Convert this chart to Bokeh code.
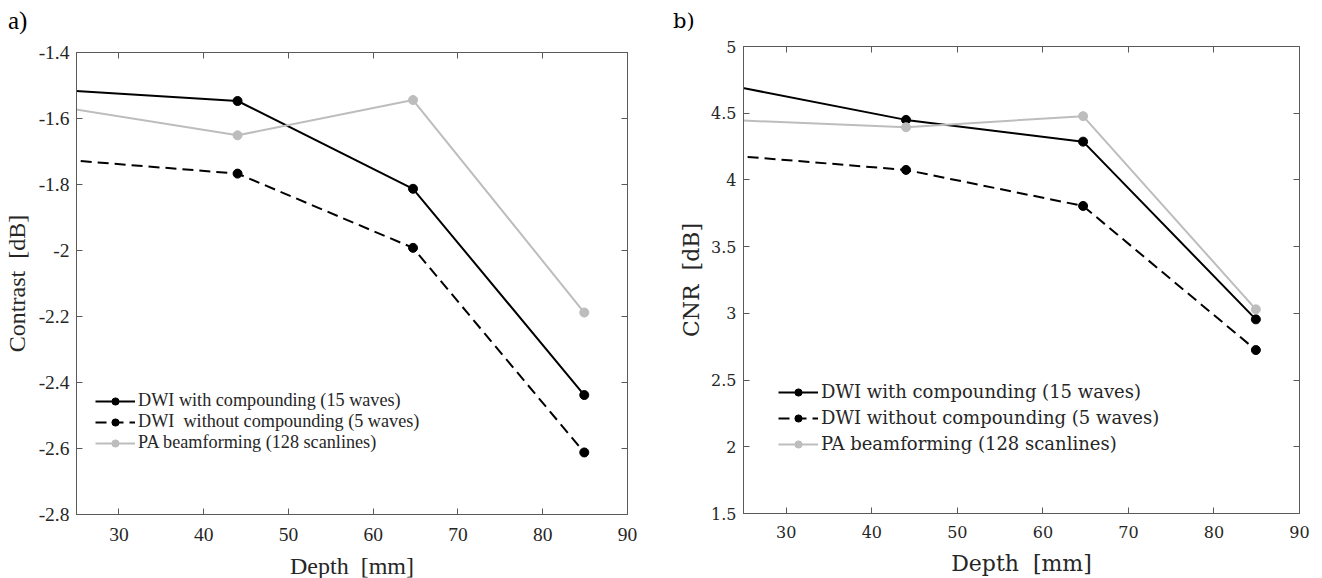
from bokeh.plotting import figure
from bokeh.models import Range1d, LinearAxis, FixedTicker, Legend, LegendItem, Div
from bokeh.layouts import row, column
from bokeh.embed import file_html
from bokeh.resources import INLINE

# ---------------- data ----------------
depth = [23.5, 44.0, 64.7, 84.9]

contrast_comp = [-1.514, -1.547, -1.813, -2.438]
contrast_nocomp = [-1.725, -1.767, -1.992, -2.612]
contrast_pa = [-1.567, -1.651, -1.544, -2.188]

cnr_comp = [4.707, 4.450, 4.287, 2.955]
cnr_nocomp = [4.183, 4.075, 3.805, 2.725]
cnr_pa = [4.449, 4.395, 4.478, 3.030]

series_names = [
    "DWI with compounding (15 waves)",
    "DWI\u00a0 without compounding (5 waves)",
    "PA beamforming (128 scanlines)",
]
series_names_b = [
    "DWI with compounding (15 waves)",
    "DWI without compounding (5 waves)",
    "PA beamforming (128 scanlines)",
]

x_ticks = [30, 40, 50, 60, 70, 80, 90]
x_tick_labels = ["30", "40", "50", "60", "70", "80", "90"]
contrast_ticks = [-2.8, -2.6, -2.4, -2.2, -2.0, -1.8, -1.6, -1.4]
contrast_tick_labels = ["-2.8", "-2.6", "-2.4", "-2.2", "-2", "-1.8", "-1.6", "-1.4"]
cnr_ticks = [1.5, 2.0, 2.5, 3.0, 3.5, 4.0, 4.5, 5.0]
cnr_tick_labels = ["1.5", "2", "2.5", "3", "3.5", "4", "4.5", "5"]

AX = "#5a5a5a"
TXT = "#262626"
GRAY = "#bdbdbd"
TAG_H = 34


def style_axis(ax, ticks, labels, font, size, hidden=False):
    ax.ticker = FixedTicker(ticks=ticks)
    ax.major_tick_in = 6
    ax.major_tick_out = 0
    ax.minor_tick_line_color = None
    ax.axis_line_color = AX
    ax.major_tick_line_color = AX
    ax.major_label_text_font = font
    ax.major_label_text_font_size = size
    if hidden:
        ax.major_label_text_color = None
        ax.major_label_standoff = 0
    else:
        ax.major_label_overrides = {t: l for t, l in zip(ticks, labels)}
        ax.major_label_text_color = TXT


def make_panel(ys, names, yticks, ylabels, ylab, ystart, yend, font,
               tick_size, lab_size, leg_size, leg_loc, leg_rowpad,
               border_left, border_right, border_top, fw, fh,
               ylab_standoff, xtick_standoff, xlab_standoff):
    total_h = 578 - TAG_H
    p = figure(output_backend="svg", toolbar_location=None,
               frame_width=fw, frame_height=fh,
               min_border_left=border_left, min_border_right=border_right,
               min_border_top=border_top,
               min_border_bottom=total_h - border_top - fh,
               x_range=Range1d(25, 90), y_range=Range1d(ystart, yend))
    p.xgrid.visible = False
    p.ygrid.visible = False
    p.outline_line_color = AX
    p.background_fill_color = "white"
    p.border_fill_color = "white"

    style_axis(p.xaxis[0], x_ticks, x_tick_labels, font, tick_size)
    style_axis(p.yaxis[0], yticks, ylabels, font, tick_size)
    p.xaxis.major_label_standoff = xtick_standoff
    p.yaxis.major_label_standoff = 7
    p.xaxis.axis_label = "Depth\u00a0\u00a0[mm]"
    p.yaxis.axis_label = ylab
    for ax in (p.xaxis[0], p.yaxis[0]):
        ax.axis_label_text_font = font
        ax.axis_label_text_font_size = lab_size
        ax.axis_label_text_font_style = "normal"
        ax.axis_label_text_color = TXT
    p.xaxis.axis_label_standoff = xlab_standoff
    p.yaxis.axis_label_standoff = ylab_standoff

    top = LinearAxis()
    style_axis(top, x_ticks, x_tick_labels, font, "1px", hidden=True)
    p.add_layout(top, "above")
    right = LinearAxis()
    style_axis(right, yticks, ylabels, font, "1px", hidden=True)
    p.add_layout(right, "right")

    colors = ["black", "black", GRAY]
    dashes = ["solid", "11 6", "solid"]
    items = []
    for y, name, c, d in zip(ys, names, colors, dashes):
        lr = p.line(depth, y, line_color=c, line_width=2, line_dash=d)
        sr = p.scatter(depth, y, marker="circle", size=9, fill_color=c, line_color=c)
        items.append(LegendItem(label=name, renderers=[lr, sr]))

    leg = Legend(items=items, location=leg_loc, padding=0, margin=0,
                 spacing=leg_rowpad, glyph_width=40, glyph_height=18,
                 label_height=18, label_standoff=3,
                 border_line_color=None, background_fill_alpha=0,
                 label_text_font=font, label_text_font_size=leg_size,
                 label_text_color=TXT)
    p.add_layout(leg)
    return p


def tag(text, font, size, left):
    html = ('<div style="font-family:\'%s\';font-size:%s;line-height:24px;'
            'padding-top:9px;color:black">%s</div>' % (font, size, text))
    return Div(text=html, width=60, height=TAG_H, margin=(0, 0, 0, left))


pa = make_panel([contrast_comp, contrast_nocomp, contrast_pa], series_names,
                contrast_ticks, contrast_tick_labels, "Contrast\u00a0\u00a0[dB]",
                -2.8, -1.4, "Liberation Serif", "19.5px", "24px", "18.2px",
                (19, 61), 0, 76, 30, 52 - TAG_H, 551, 462,
                6, 13, 9)

pb = make_panel([cnr_comp, cnr_nocomp, cnr_pa], series_names_b,
                cnr_ticks, cnr_tick_labels, "CNR\u00a0\u00a0[dB]",
                1.5, 5.0, "DejaVu Serif", "16px", "22px", "18px",
                (35, 59), 5, 86, 22, 46 - TAG_H, 556, 467,
                4, 12, 10)

layout = row(column(tag("a)", "Liberation Serif", "25px", 8), pa),
             column(tag("b)", "DejaVu Serif", "21px", 16), pb))
open("out.html", "w").write(file_html(layout, INLINE))
